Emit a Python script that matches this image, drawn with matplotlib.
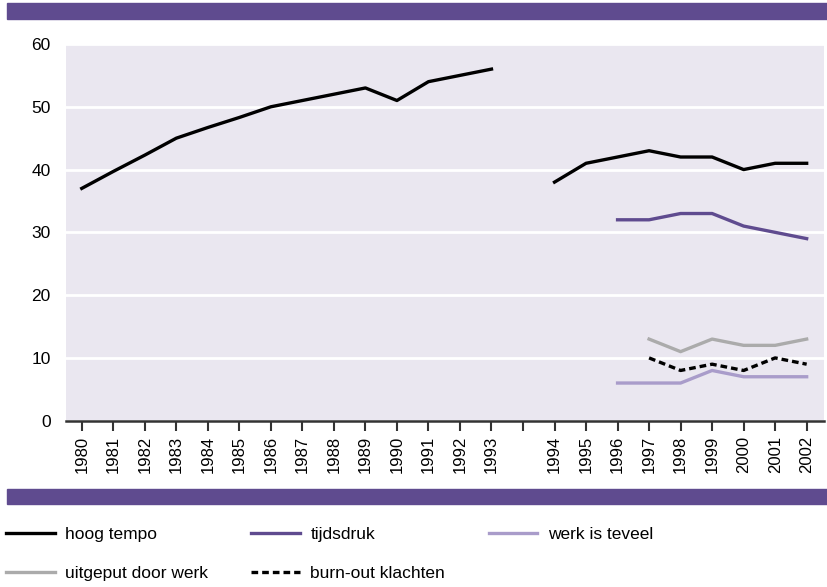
import numpy as np
import matplotlib
matplotlib.use("Agg")
import matplotlib.pyplot as plt
from matplotlib.patches import Rectangle
from matplotlib import font_manager

# jaren, met een lege plek tussen 1993 en 1994
years = ['1980', '1981', '1982', '1983', '1984', '1985', '1986', '1987', '1988', '1989',
         '1990', '1991', '1992', '1993', '', '1994', '1995', '1996', '1997', '1998',
         '1999', '2000', '2001', '2002']
n = np.nan
hoog_tempo = [37, 39.7, 42.3, 45, 46.7, 48.3, 50, 51, 52, 53, 51, 54, 55, 56,
              n, 38, 41, 42, 43, 42, 42, 40, 41, 41]
tijdsdruk = [n] * 17 + [32, 32, 33, 33, 31, 30, 29]
werk_teveel = [n] * 17 + [6, 6, 6, 8, 7, 7, 7]
uitgeput = [n] * 18 + [13, 11, 13, 12, 12, 13]
burnout = [n] * 18 + [10, 8, 9, 8, 10, 9]

purple = '#5f4b8f'
light_purple = '#a99cca'
grey = '#ababab'

plt.rcParams['font.family'] = ['Liberation Sans', 'DejaVu Sans']

# smalle letter voor de legenda als die er is
names = {f.name for f in font_manager.fontManager.ttflist}
if 'Liberation Sans Narrow' in names:
    leg_font = {'family': ['Liberation Sans Narrow', 'DejaVu Sans'], 'size': 14}
else:
    leg_font = {'family': ['Liberation Sans', 'DejaVu Sans'], 'size': 12.5}

fig = plt.figure(figsize=(8.28, 5.87), dpi=100)
ax = fig.add_axes([66 / 828, 1 - 420.7 / 587, (824 - 66) / 828, (420.7 - 44) / 587])
ax.set_facecolor('#eae7f0')

x = np.arange(len(years))
l1, = ax.plot(x, hoog_tempo, color='black', lw=2.4, label='hoog tempo')
l2, = ax.plot(x, tijdsdruk, color=purple, lw=2.4, label='tijdsdruk')
l3, = ax.plot(x, werk_teveel, color=light_purple, lw=2.4, label='werk is teveel')
l4, = ax.plot(x, uitgeput, color=grey, lw=2.4, label='uitgeput door werk')
l5, = ax.plot(x, burnout, color='black', lw=2.4, ls=(0, (2, 1.2)), label='burn-out klachten')

ax.set_xlim(-0.5, 23.55)
ax.set_ylim(0, 60)
ax.set_yticks(range(0, 61, 10))
ax.set_xticks(x)
ax.set_xticklabels(years, rotation=90, fontsize=12)
ax.tick_params(axis='y', length=0, labelsize=12.5, pad=11)
ax.tick_params(axis='x', length=7, width=1.5, color='#333333', pad=4)
ax.grid(axis='y', color='white', lw=2)
ax.set_axisbelow(True)
for s in ['top', 'right', 'left']:
    ax.spines[s].set_visible(False)
ax.spines['bottom'].set_color('#333333')
ax.spines['bottom'].set_linewidth(1.8)

# paarse balken
fig.patches.append(Rectangle((7 / 828, 1 - 19 / 587), 1, 16 / 587,
                             transform=fig.transFigure, color=purple))
fig.patches.append(Rectangle((7 / 828, 1 - 504 / 587), 1, 15 / 587,
                             transform=fig.transFigure, color=purple))

fig.legend([l1, l4, l2, l5, l3],
           ['hoog tempo', 'uitgeput door werk', 'tijdsdruk', 'burn-out klachten', 'werk is teveel'],
           ncol=3, loc='upper left', bbox_to_anchor=(6 / 828, 1 - 527 / 587), frameon=False,
           prop=leg_font, handlelength=2.8, handletextpad=0.6, columnspacing=2.5,
           labelspacing=1.35, borderaxespad=0, borderpad=0)

fig.savefig('out.png', dpi=100)
